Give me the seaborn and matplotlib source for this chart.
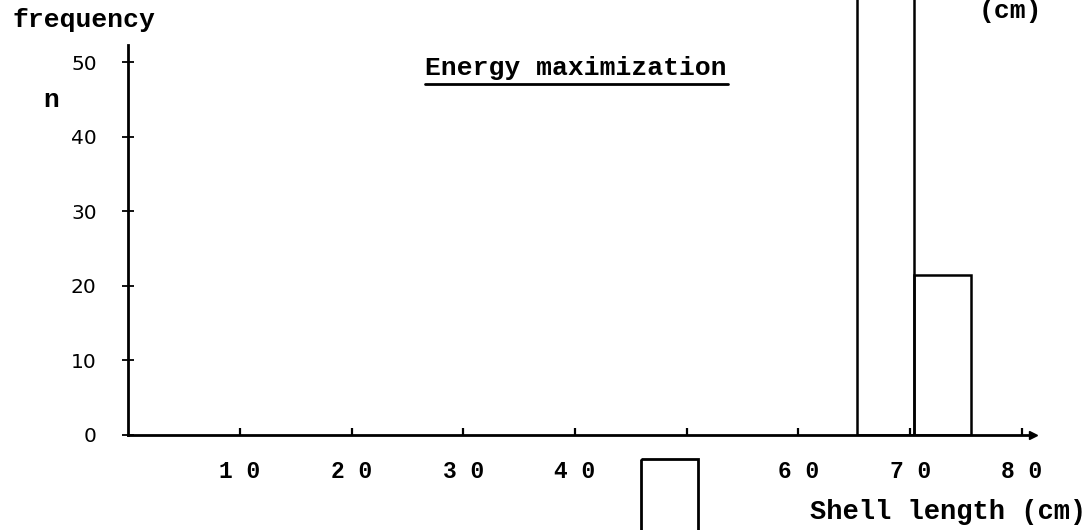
import matplotlib
matplotlib.use("Agg")
import matplotlib.pyplot as plt
import seaborn as sns
import numpy as np
from matplotlib.lines import Line2D

# ---- data ----
bin_edges = [65.2, 70.3, 75.4]
bin_counts = [80, 21.5]           # first bar runs off the top of the page
box_edges = [45.9, 51.0]          # stray box below the axis (from adjacent panel)
box_top = -3.2
box_depth = -20
x_ticks = [10, 20, 30, 40, 50, 60, 70, 80]
x_ticklabels = ["1 0", "2 0", "3 0", "4 0", "", "6 0", "7 0", "8 0"]
y_ticks = [0, 10, 20, 30, 40, 50]
y_ticklabels = ["0", "10", "20", "30", "40", "50"]

sns.set_theme(style="white")
plt.rcParams["font.family"] = ["Liberation Mono", "DejaVu Sans Mono"]

W, H = 1091, 530
fig = plt.figure(figsize=(W / 100, H / 100), dpi=100)
x0_px, x80_px = 128, 1022
y0_px = 435
px_per_x = (x80_px - x0_px) / 80
px_per_y = 7.46
xmax = 81.0
ymax = y0_px / px_per_y
ax = fig.add_axes([x0_px / W, (H - y0_px) / H, xmax * px_per_x / W, y0_px / H])
ax.set_xlim(0, xmax)
ax.set_ylim(0, ymax)
ax.patch.set_alpha(0)

centers = [(a + b) / 2 for a, b in zip(bin_edges[:-1], bin_edges[1:])]
sns.histplot(x=centers, weights=bin_counts, bins=bin_edges, fill=False,
             element="bars", color="black", linewidth=1.8, ax=ax)

ax.bar([(box_edges[0] + box_edges[1]) / 2], [box_depth], bottom=box_top,
       width=box_edges[1] - box_edges[0], fill=False, edgecolor="black",
       linewidth=2.0, clip_on=False)

for s in ["top", "right"]:
    ax.spines[s].set_visible(False)
for s in ["left", "bottom"]:
    ax.spines[s].set_color("black")
    ax.spines[s].set_linewidth(2.0)
ax.spines["left"].set_bounds(0, 52.3)
ax.spines["bottom"].set_bounds(0, xmax - 0.3)
ax.plot(1, 0, ">", color="black", markersize=6, transform=ax.get_yaxis_transform(), clip_on=False)

ax.set_xticks(x_ticks)
ax.set_xticklabels(x_ticklabels, fontsize=16.5, family="Liberation Mono", fontweight="bold")
ax.set_yticks(y_ticks)
ax.set_yticklabels(y_ticklabels, fontsize=14.5, family="DejaVu Sans")
ax.tick_params(axis="x", direction="in", length=5, width=1.6, color="black", pad=18,
               bottom=True, labelcolor="black")
ax.tick_params(axis="y", direction="inout", length=9, width=1.3, color="black", pad=18,
               left=True, labelcolor="black")
ax.set_xlabel("")
ax.set_ylabel("")
ax.grid(False)

def ftext(xp, yp, s, **kw):
    fig.text(xp / W, 1 - yp / H, s, color="black", fontweight="bold", **kw)

ftext(12, 27, "frequency", fontsize=19, ha="left", va="baseline")
ftext(43, 107, "n", fontsize=19, ha="left", va="baseline")
ftext(1010, 18, "(cm)", fontsize=19, ha="center", va="baseline")
ftext(1086, 519, "Shell length (cm)", fontsize=19.5, ha="right", va="baseline")
ftext(576, 75, "Energy maximization", fontsize=19, ha="center", va="baseline")
fig.add_artist(Line2D([425 / W, 728 / W], [1 - 84 / H, 1 - 84 / H], color="black", linewidth=2.0))

fig.savefig("out.png", dpi=100)
